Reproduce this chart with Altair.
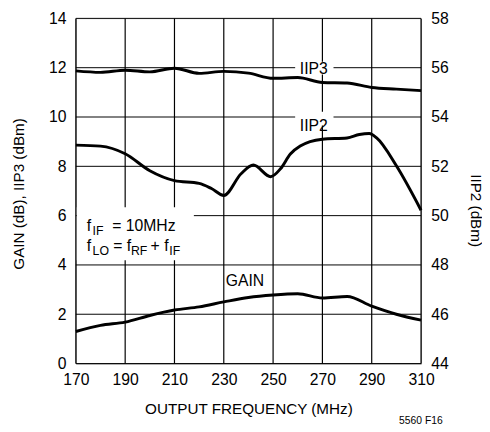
import altair as alt
import pandas as pd

# ---- data ----
gain_f = [170, 180, 190, 200, 210, 220, 230, 240, 250, 260, 270, 280, 290, 300, 310]
gain_v = [1.30, 1.55, 1.68, 1.95, 2.17, 2.30, 2.50, 2.68, 2.78, 2.83, 2.66, 2.72, 2.33, 2.00, 1.76]

iip3_f = [170, 180, 190, 200, 210, 220, 230, 240, 250, 260, 270, 280, 290, 300, 310]
iip3_v = [11.87, 11.81, 11.90, 11.83, 11.98, 11.77, 11.85, 11.78, 11.57, 11.60, 11.40, 11.38, 11.20, 11.13, 11.07]

iip2_f = [170, 180, 190, 200, 210, 220, 225, 230, 237, 242, 249, 253, 257, 261, 265, 270, 280, 285, 289, 292, 300, 310]
iip2_v = [52.86, 52.82, 52.51, 51.82, 51.42, 51.31, 51.10, 50.82, 51.70, 52.05, 51.58, 51.90, 52.50, 52.82, 53.00, 53.10, 53.15, 53.29, 53.33, 53.15, 52.02, 50.22]

x_ticks = [170, 190, 210, 230, 250, 270, 290, 310]
left_ticks = [0, 2, 4, 6, 8, 10, 12, 14]
right_ticks = [44, 46, 48, 50, 52, 54, 56, 58]

FONT = "Liberation Sans"
W, H = 351, 351

xscale = alt.Scale(domain=[170, 310], nice=False, zero=False)
x_axis = alt.Axis(values=x_ticks, title="OUTPUT FREQUENCY (MHz)", grid=False,
                  tickSize=0, labelPadding=8, labelFontSize=16,
                  titleFontSize=15.5, titleFontWeight="normal",
                  titleBaseline="alphabetic", titleY=51, labelFlush=False)
xenc = alt.X("f:Q", scale=xscale, axis=x_axis)

left_axis = alt.Axis(values=left_ticks, title="GAIN (dB), IIP3 (dBm)", grid=False,
                     tickSize=0, labelPadding=10, labelFontSize=16,
                     titleFontSize=15.5, titleFontWeight="normal",
                     titleX=-53, titleY=178, titleAngle=-90, titleBaseline="alphabetic")

right_axis = alt.Axis(values=right_ticks, title="IIP2 (dBm)", grid=False, orient="right",
                      tickSize=0, labelPadding=10, labelFontSize=16,
                      titleFontSize=15.5, titleFontWeight="normal",
                      titleX=50, titleY=195, titleAngle=90, titleBaseline="alphabetic")

yleft_scale = alt.Scale(domain=[0, 14], nice=False, zero=False)
yright_scale = alt.Scale(domain=[44, 58], nice=False, zero=False)

gain_df = pd.DataFrame({"f": gain_f, "v": gain_v})
iip3_df = pd.DataFrame({"f": iip3_f, "v": iip3_v})
iip2_df = pd.DataFrame({"f": iip2_f, "v": iip2_v})

# vertical grid lines: one two-point line per x tick, spanning the left y domain
vg_f = [t for t in x_ticks for _ in range(2)]
vg_v = [left_ticks[0], left_ticks[-1]] * len(x_ticks)
vgrid = alt.Chart(pd.DataFrame({"f": vg_f, "v": vg_v})).mark_line(
    color="black", strokeWidth=1.2).encode(
    x=xenc, y=alt.Y("v:Q", scale=yleft_scale, axis=left_axis), detail="f:N")
hgrid = alt.Chart(pd.DataFrame({"v": left_ticks})).mark_rule(color="black", strokeWidth=1).encode(
    y=alt.Y("v:Q", scale=yleft_scale, axis=left_axis), x=alt.value(0), x2=alt.value(W))

line_style = dict(color="black", strokeWidth=3, interpolate="monotone")

gain_line = alt.Chart(gain_df).mark_line(**line_style).encode(
    x=xenc, y=alt.Y("v:Q", scale=yleft_scale, axis=left_axis))
iip3_line = alt.Chart(iip3_df).mark_line(**line_style).encode(
    x=xenc, y=alt.Y("v:Q", scale=yleft_scale, axis=left_axis))
iip2_line = alt.Chart(iip2_df).mark_line(**line_style).encode(
    x=xenc, y=alt.Y("v:Q", scale=yright_scale, axis=right_axis))


def box(x1, x2, y1, y2):
    return alt.Chart(pd.DataFrame({"k": [0]})).mark_rect(color="white").encode(
        x=alt.value(x1), x2=alt.value(x2), y=alt.value(y1), y2=alt.value(y2))


def label(txt, x, y, size=16, align="left"):
    return alt.Chart(pd.DataFrame({"t": [txt]})).mark_text(
        font=FONT, fontSize=size, align=align, baseline="alphabetic", color="black"
    ).encode(x=alt.value(x), y=alt.value(y), text="t:N")


boxes = [
    box(1, 120, 192, 246),    # annotation box
    box(223, 262, 44, 57),    # IIP3 label gap
    box(223, 262, 95, 109),   # IIP2 label gap
]

texts = [
    label("IIP3", 242, 57, 16, "center"),
    label("IIP2", 242, 115, 16, "center"),
    label("GAIN", 172, 272, 16, "center"),
    # f_IF = 10MHz
    label("f", 11, 216, 16),
    label("IF", 17, 220, 12.5),
    label("= 10MHz", 37, 216, 16),
    # f_LO = f_RF + f_IF
    label("f", 11, 237, 16),
    label("LO", 17, 241, 12.5),
    label("= f", 38, 237, 16),
    label("RF", 56, 241, 12.5),
    label("+ f", 76, 237, 16),
    label("IF", 95, 241, 12.5),
    label("5560 F16", 373, 412, 10.5, "right"),
]

left = alt.layer(vgrid, hgrid, *boxes, gain_line, iip3_line, *texts)
chart = alt.layer(left, iip2_line).resolve_scale(y="independent").properties(
    width=W, height=H,
    autosize=alt.AutoSizeParams(type="none"),
    padding={"left": 69, "top": 7, "right": 62, "bottom": 64},
).configure_view(
    stroke="black", strokeWidth=2
).configure_axis(
    domain=False, labelFont=FONT, titleFont=FONT, labelColor="black", titleColor="black"
).configure(background="white")

chart.save("out.html", embed_options={"renderer": "svg", "actions": False})
